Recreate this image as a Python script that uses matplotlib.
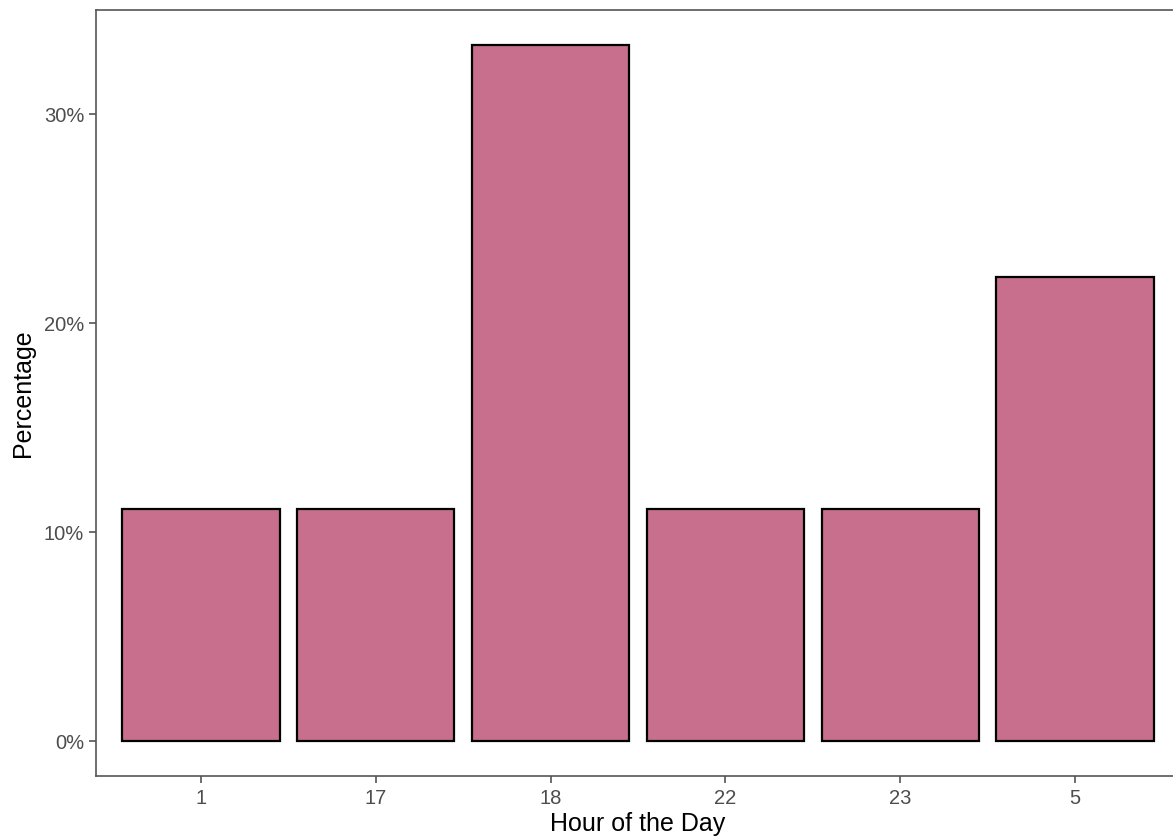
import matplotlib
matplotlib.use("Agg")
import matplotlib.pyplot as plt
from matplotlib.ticker import FuncFormatter

# ===========================
# DATA
# ===========================

hours = ["1", "17", "18", "22", "23", "5"]
percentages = [11.11, 11.11, 33.33, 11.11, 11.11, 22.22]

plt.rcParams["font.family"] = ["Liberation Sans", "DejaVu Sans"]

# ===========================
# PLOT
# ===========================

fig = plt.figure(figsize=(11.73, 8.39), dpi=100)
ax = fig.add_axes([96 / 1173, 63 / 839, 1084 / 1173, 766 / 839])

x = list(range(len(hours)))
ax.bar(x, percentages, width=0.9, color="#C86F8D", edgecolor="black", linewidth=1.6)

ax.set_xlim(-0.6, len(hours) - 0.4)
ax.set_ylim(-1.667, 35.0)
ax.set_xticks(x)
ax.set_xticklabels(hours)
ax.set_yticks([0, 10, 20, 30])
ax.yaxis.set_major_formatter(FuncFormatter(lambda v, p: f"{v:.0f}%"))

for s in ax.spines.values():
    s.set_color("#555555")
    s.set_linewidth(1.2)

ax.tick_params(axis="both", colors="#555555", labelcolor="#4D4D4D",
               labelsize=14.5, length=5, width=1.2)
ax.tick_params(axis="x", pad=4)

ax.set_xlabel("Hour of the Day", fontsize=18, color="black", labelpad=3)
ax.set_ylabel("Percentage", fontsize=18, color="black", labelpad=6)

fig.savefig("out.png", dpi=100)
